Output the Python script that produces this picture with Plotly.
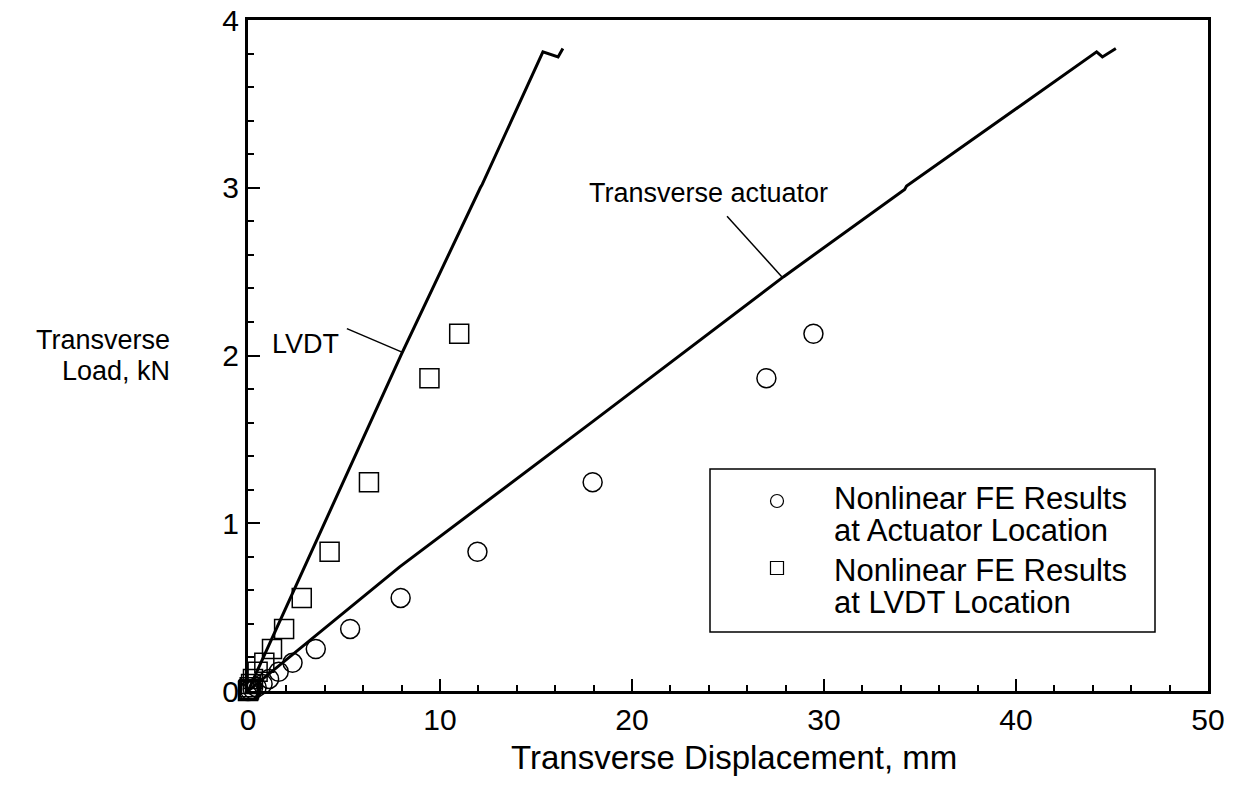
import plotly.graph_objects as go

# ---- data ----
lvdt_x = [0, 3.1, 8.0, 12.1, 12.2, 15.36, 16.15, 16.4]
lvdt_y = [0, 0.78, 2.01, 3.0, 3.02, 3.81, 3.78, 3.83]

act_x = [0, 7.9, 18.0, 27.9, 34.2, 34.3, 44.2, 44.5, 45.2]
act_y = [0, 0.74, 1.61, 2.47, 2.99, 3.01, 3.81, 3.78, 3.83]

load = [2.13, 1.865, 1.245, 0.83, 0.555, 0.37, 0.25, 0.168, 0.115, 0.072, 0.042, 0.022, 0.01, 0.004, 0.0]
fe_act_x = [29.45, 27.0, 17.95, 11.95, 7.95, 5.32, 3.53, 2.32, 1.6, 1.1, 0.76, 0.45, 0.25, 0.1, 0.0]
fe_lvdt_x = [11.0, 9.45, 6.3, 4.25, 2.8, 1.88, 1.25, 0.85, 0.5, 0.26, 0.16, 0.09, 0.05, 0.02, 0.0]

legend_lines = [["Nonlinear FE Results", "at Actuator Location"],
                ["Nonlinear FE Results", "at LVDT Location"]]
legend_symbols = ["circle", "rect"]

x_ticks = [0, 10, 20, 30, 40, 50]
y_ticks = [0, 1, 2, 3, 4]
x_title = "Transverse Displacement, mm"
y_title_lines = ["Transverse", "Load, kN"]

FONT = "Liberation Sans, Arial, Helvetica, sans-serif"

PL, PR, PT, PB = 248, 1208, 20, 691   # desired screen plot box
W, H = 1240, 793


def px(sx):
    return (sx - PL) / (PR - PL)


def py(sy):
    return (PB - sy) / (PB - PT)


fig = go.Figure()
fig.add_trace(go.Scatter(x=lvdt_x, y=lvdt_y, mode="lines",
                         line=dict(color="black", width=3), showlegend=False))
fig.add_trace(go.Scatter(x=act_x, y=act_y, mode="lines",
                         line=dict(color="black", width=3), showlegend=False))
fig.add_trace(go.Scatter(x=fe_act_x, y=load, mode="markers",
                         name=" ".join(legend_lines[0]), showlegend=False,
                         cliponaxis=False,
                         marker=dict(symbol="circle-open", size=19, color="black",
                                     line=dict(width=1.5, color="black"))))
fig.add_trace(go.Scatter(x=fe_lvdt_x, y=load, mode="markers",
                         name=" ".join(legend_lines[1]), showlegend=False,
                         cliponaxis=False,
                         marker=dict(symbol="square-open", size=19, color="black",
                                     line=dict(width=1.5, color="black"))))

axis_common = dict(showgrid=False, zeroline=False, showline=True, linecolor="black",
                   linewidth=3, mirror=True, ticks="inside", ticklen=12, tickwidth=2,
                   tickcolor="black", ticklabeloverflow="allow", automargin=False,
                   tickfont=dict(family=FONT, size=30, color="black"))

fig.update_xaxes(range=[0, 50], tickvals=x_ticks, **axis_common,
                 minor=dict(dtick=2, ticks="inside", ticklen=6, tickwidth=2, tickcolor="black"))
fig.update_yaxes(range=[0, 4], tickvals=y_ticks, **axis_common,
                 minor=dict(dtick=0.2, ticks="inside", ticklen=6, tickwidth=2, tickcolor="black"))

# X axis title
fig.add_annotation(xref="paper", yref="paper", x=px(734), y=py(757), xanchor="center",
                   yanchor="middle", showarrow=False, text=x_title,
                   font=dict(family=FONT, size=33, color="black"))

# Y axis title (horizontal, two lines)
for txt, sy in zip(y_title_lines, [340, 371]):
    fig.add_annotation(xref="paper", yref="paper", x=px(172), y=py(sy), xanchor="right",
                       yanchor="middle", showarrow=False, text=txt,
                       font=dict(family=FONT, size=27, color="black"))

# Line labels with leader lines
labels = ["LVDT", "Transverse actuator"]
label_pos = [(2.97, 2.07), (23.96, 2.97)]
leader_start = [(5.15, 2.16), (24.95, 2.83)]
leader_end = [(8.02, 2.02), (27.8, 2.47)]
for t, (lx, ly), (sx, sy), (ex, ey) in zip(labels, label_pos, leader_start, leader_end):
    fig.add_annotation(x=lx, y=ly, text=t, showarrow=False,
                       font=dict(family=FONT, size=27, color="black"))
    fig.add_shape(type="line", x0=sx, y0=sy, x1=ex, y1=ey,
                  line=dict(color="black", width=1.5))

# Legend box
fig.add_shape(type="rect", xref="paper", yref="paper",
              x0=px(710), x1=px(1155), y0=py(632), y1=py(469),
              line=dict(color="black", width=1.5), fillcolor="rgba(0,0,0,0)")

legend_marker_y = [501, 568]
legend_text_y = [[498, 530], [570, 602]]
for sym, my, lines, tys in zip(legend_symbols, legend_marker_y, legend_lines, legend_text_y):
    fig.add_shape(type=sym, xref="paper", yref="paper",
                  xsizemode="pixel", ysizemode="pixel",
                  xanchor=px(777), yanchor=py(my),
                  x0=-6.5, x1=6.5, y0=-6.5, y1=6.5,
                  line=dict(color="black", width=1.2), fillcolor="rgba(0,0,0,0)")
    for ln, ty in zip(lines, tys):
        fig.add_annotation(xref="paper", yref="paper", x=px(832), y=py(ty),
                           xanchor="left", yanchor="middle", showarrow=False, text=ln,
                           font=dict(family=FONT, size=31, color="black"))

fig.update_layout(
    width=W, height=H,
    margin=dict(l=PL, r=W - PR, t=PT, b=H - PB, autoexpand=False),
    paper_bgcolor="white", plot_bgcolor="white",
    font=dict(family=FONT, color="black"),
    showlegend=False,
)

fig.write_html("out.html", config={"displayModeBar": False},
               post_script="document.body.style.margin='0';document.body.style.overflow='hidden';")
